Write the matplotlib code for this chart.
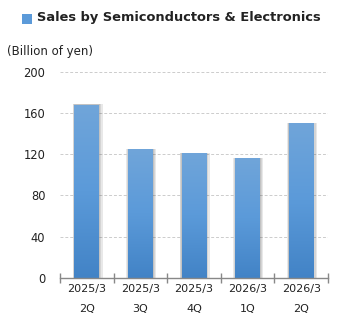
import numpy as np
import matplotlib.pyplot as plt
from matplotlib.patches import Rectangle
from matplotlib.colors import LinearSegmentedColormap

periods = ["2025/3", "2025/3", "2025/3", "2026/3", "2026/3"]
quarters = ["2Q", "3Q", "4Q", "1Q", "2Q"]
sales = [168, 125, 121, 116, 150]

plt.rcParams["font.family"] = ["DejaVu Sans"]

fig = plt.figure(figsize=(3.45, 3.3), dpi=100)
ax = fig.add_axes([60 / 345, 52.3 / 330, 268 / 345, 205.7 / 330])

x = np.arange(len(sales))
bars = ax.bar(x, sales, width=0.46, color="none", zorder=3)

# vertical gradient fill, lighter at top, plus a soft shadow on each side
grad = LinearSegmentedColormap.from_list("bar", ["#4283c6", "#5b9ad9", "#70a5da"])
img = np.linspace(0, 1, 256).reshape(-1, 1)
for b in bars:
    x0, w, h = b.get_x(), b.get_width(), b.get_height()
    for k in [0.07, 0.045, 0.02]:
        ax.add_patch(Rectangle((x0 - k * 0.5, 0), w + k * 1.4, h + 0.5,
                               facecolor="#444444", alpha=0.12, lw=0, zorder=2))
    im = ax.imshow(img, extent=(x0, x0 + w, 0, h), origin="lower", cmap=grad,
                   aspect="auto", zorder=3)
    im.set_clip_path(b)

ax.set_xlim(-0.5, len(sales) - 0.5)
ax.set_ylim(0, 200)
ax.set_yticks(range(0, 201, 40))
ax.yaxis.grid(True, color="#cccccc", linestyle=(0, (3, 2)), lw=0.7, zorder=0)
ax.tick_params(axis="y", length=0, labelsize=8.3, pad=10.5, colors="#222222")

ax.set_xticks(x)
ax.set_xticklabels([f"{p}\n{q}" for p, q in zip(periods, quarters)],
                   linespacing=2.2, fontsize=8, color="#222222")
ax.tick_params(axis="x", which="major", length=0, pad=4.5)
ax.set_xticks(np.arange(-0.5, len(sales), 1), minor=True)
ax.tick_params(axis="x", which="minor", length=7, direction="inout",
               color="#888888", width=1)

for s in ["top", "right", "left"]:
    ax.spines[s].set_visible(False)
ax.spines["bottom"].set_color("#888888")
ax.spines["bottom"].set_linewidth(1.0)
ax.spines["bottom"].set_zorder(4)

fig.patches.append(Rectangle((22 / 345, 1 - 23.5 / 330), 10 / 345, 10 / 330,
                             transform=fig.transFigure, facecolor="#5b9ad9",
                             edgecolor="none"))
fig.text(37 / 345, 1 - 17 / 330, "Sales by Semiconductors & Electronics",
         fontsize=9.4, fontweight="bold", color="#222222", va="center")
fig.text(7 / 345, 1 - 52 / 330, "(Billion of yen)", fontsize=8.5,
         color="#222222", va="center")

fig.savefig("out.png", dpi=100)
